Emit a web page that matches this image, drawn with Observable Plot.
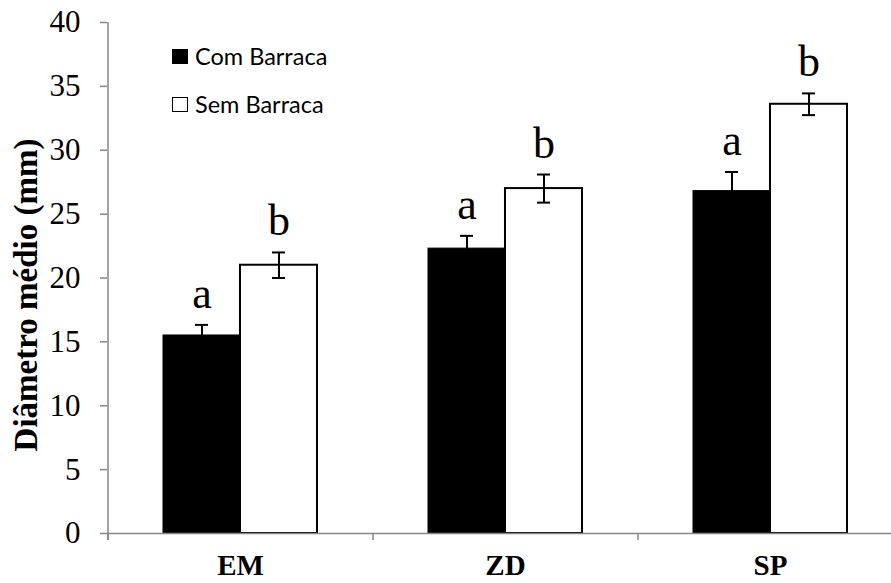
<!DOCTYPE html>
<html><head><meta charset="utf-8">
<script src="https://cdn.jsdelivr.net/npm/d3@7"></script>
<script src="https://cdn.jsdelivr.net/npm/@observablehq/plot@0.6"></script>
<style>
html,body{margin:0;padding:0;background:#fff;overflow:hidden;}
#wrap{position:relative;width:891px;height:583px;overflow:hidden;}
#wrap svg{display:block;max-width:none !important;height:583px !important;}
.legend{position:absolute;left:172px;top:44px;font-family:Lato,"Open Sans",sans-serif;font-size:23.5px;color:#000;line-height:24px;}
.row{display:flex;align-items:center;height:24px;margin-bottom:24px;}
.sw{width:16px;height:15px;box-sizing:border-box;border:1.5px solid #000;margin-right:7px;}
</style></head><body><div id="wrap"></div>
<script>
const categories = ["EM", "ZD", "SP"];
const seriesNames = ["Com Barraca", "Sem Barraca"];
const comValues = [15.5, 22.3, 26.8];
const comErrors = [0.83, 1.0, 1.5];
const semValues = [21.0, 27.0, 33.6];
const semErrors = [1.0, 1.1, 0.85];
const comLetters = ["a", "a", "a"];
const semLetters = ["b", "b", "b"];
const yTicks = [0, 5, 10, 15, 20, 25, 30, 35, 40];
const yLabel = "Diâmetro médio (mm)";

const com = categories.map((c, i) => ({cat: c, value: comValues[i], err: comErrors[i], letter: comLetters[i]}));
const sem = categories.map((c, i) => ({cat: c, value: semValues[i], err: semErrors[i], letter: semLetters[i]}));

const W = 902, H = 583, ML = 107, MR = 0, MT = 22, MB = 50;
const padInner = 0.419;
const step = (W - ML - MR) / categories.length;
const bw = step * (1 - padInner);
const capHalf = 6.5;
const serif = "'Liberation Serif','Times New Roman',serif";
const axisGray = "#868686";

const plot = Plot.plot({
  width: W, height: H,
  marginLeft: ML, marginRight: MR, marginTop: MT, marginBottom: MB,
  style: {background: "#fff", overflow: "visible", maxWidth: "none"},
  x: {domain: categories, paddingInner: padInner, paddingOuter: padInner / 2, axis: null},
  y: {domain: [0, 40], axis: null},
  marks: [
    Plot.barY(com, {x: "cat", y: "value", fill: "#000", stroke: "#000", strokeWidth: 1, insetRight: bw / 2}),
    Plot.barY(sem, {x: "cat", y: "value", fill: "#fff", stroke: "#000", strokeWidth: 2, insetLeft: bw / 2}),
    Plot.ruleY([0], {stroke: axisGray, strokeWidth: 1.5}),
    Plot.ruleX(categories, {x: d => d, dx: -step / 2, y1: -0.55, y2: 0, stroke: axisGray, strokeWidth: 1.5}),
    Plot.ruleX(categories.slice(0, 1), {x: d => d, dx: -step / 2, y1: -0.55, y2: 40, stroke: axisGray, strokeWidth: 1.5}),
    Plot.axisY({ticks: yTicks, tickSize: 7, tickPadding: 20, tickFormat: d => String(d), fontSize: 31, fontFamily: serif, stroke: axisGray, strokeWidth: 1.5, fill: "#000", label: null}),
    Plot.axisX({tickSize: 0, tickPadding: 21, fontSize: 29, fontWeight: "bold", fontFamily: serif, fill: "#000", label: null}),
    // error bars
    Plot.ruleX(com, {x: "cat", y1: d => d.value - d.err, y2: d => d.value + d.err, dx: -bw / 4, stroke: "#000", strokeWidth: 2}),
    Plot.ruleX(sem, {x: "cat", y1: d => d.value - d.err, y2: d => d.value + d.err, dx: bw / 4, stroke: "#000", strokeWidth: 2}),
    Plot.tickY(com, {x: "cat", y: d => d.value + d.err, insetLeft: bw / 4 - capHalf, insetRight: 3 * bw / 4 - capHalf, stroke: "#000", strokeWidth: 2}),
    Plot.tickY(com, {x: "cat", y: d => d.value - d.err, insetLeft: bw / 4 - capHalf, insetRight: 3 * bw / 4 - capHalf, stroke: "#000", strokeWidth: 2}),
    Plot.tickY(sem, {x: "cat", y: d => d.value + d.err, insetLeft: 3 * bw / 4 - capHalf, insetRight: bw / 4 - capHalf, stroke: "#000", strokeWidth: 2}),
    Plot.tickY(sem, {x: "cat", y: d => d.value - d.err, insetLeft: 3 * bw / 4 - capHalf, insetRight: bw / 4 - capHalf, stroke: "#000", strokeWidth: 2}),
    // significance letters
    Plot.text(com, {x: "cat", y: d => d.value + d.err, text: "letter", dx: -bw / 4, dy: -17, lineAnchor: "bottom", fontSize: 44, fontFamily: serif, fill: "#000"}),
    Plot.text(sem, {x: "cat", y: d => d.value + d.err, text: "letter", dx: bw / 4, dy: -17, lineAnchor: "bottom", fontSize: 44, fontFamily: serif, fill: "#000"}),
    // y title
    Plot.text([yLabel], {text: d => d, frameAnchor: "left", textAnchor: "middle", rotate: -90, dx: -81, dy: 17, fontSize: 33, fontWeight: "bold", fontFamily: serif, fill: "#000"})
  ]
});

const wrap = document.getElementById("wrap");
wrap.appendChild(plot);
const legend = document.createElement("div");
legend.className = "legend";
const fills = ["#000", "#fff"];
seriesNames.forEach((name, i) => {
  const row = document.createElement("div");
  row.className = "row";
  const sw = document.createElement("span");
  sw.className = "sw";
  sw.style.background = fills[i];
  const t = document.createElement("span");
  t.textContent = name;
  row.appendChild(sw); row.appendChild(t);
  legend.appendChild(row);
});
wrap.appendChild(legend);
</script></body></html>
